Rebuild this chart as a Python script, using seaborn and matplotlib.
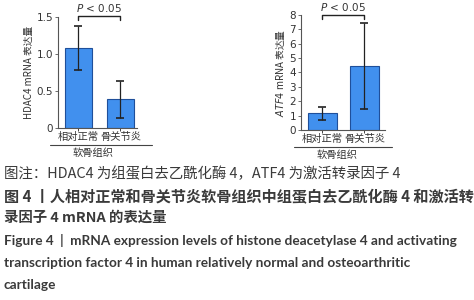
import matplotlib
matplotlib.use("Agg")
import matplotlib.pyplot as plt
import seaborn as sns
import pandas as pd
from matplotlib.lines import Line2D

sns.set_theme(style="ticks")
plt.rcParams['font.family'] = ['Noto Sans CJK SC', 'DejaVu Sans']

groups = ["相对正常", "骨关节炎"]
hdac4_mean = [1.08, 0.39]
hdac4_sd = [0.30, 0.25]
atf4_mean = [1.15, 4.45]
atf4_sd = [0.45, 3.0]
xgroup_label = "软骨组织"
hdac4_ylabel = "HDAC4 mRNA 表达量"
atf4_ylabel = "$\\it{ATF4}$ mRNA 表达量"
p_text = "$\\it{P}$ < 0.05"
captions = [
    "图注：HDAC4 为组蛋白去乙酰化酶 4，ATF4 为激活转录因子 4",
    "图 4 丨人相对正常和骨关节炎软骨组织中组蛋白去乙酰化酶 4 和激活转",
    "录因子 4 mRNA 的表达量",
    "Figure 4  |  mRNA expression levels of histone deacetylase 4 and activating",
    "transcription factor 4 in human relatively normal and osteoarthritic",
    "cartilage",
]

bar_color = "#4190ee"
edge_color = "#1f4f9a"
txt = "#333333"

fig = plt.figure(figsize=(4.74, 3.0), dpi=100)

def panel(rect, means, sds, ylim, yticks, ylabel, width, xlim, ptop, ph,
          line_x, label_x):
    ax = fig.add_axes(rect)
    df = pd.DataFrame({"g": groups, "v": means})
    sns.barplot(data=df, x="g", y="v", ax=ax, color=bar_color, width=width,
                edgecolor=edge_color, linewidth=0.8, saturation=1)
    ax.errorbar(range(len(means)), means, yerr=sds, fmt="none", ecolor="#222222",
                elinewidth=0.9, capsize=3, capthick=1.2)
    ax.set_ylim(*ylim)
    ax.set_xlim(*xlim)
    ax.set_yticks(yticks)
    ax.set_yticklabels([str(t) for t in yticks], fontsize=7.5, color=txt,
                       family=['DejaVu Sans'])
    ax.tick_params(axis='y', length=2.5, width=0.6, pad=1, colors="#555555", labelcolor=txt)
    ax.tick_params(axis='x', length=2, width=0.6, pad=1, labelsize=7.4, labelcolor=txt)
    ax.set_xlabel("")
    ax.set_ylabel(ylabel, fontsize=7, color=txt, labelpad=2)
    for s in ["top", "right"]:
        ax.spines[s].set_visible(False)
    for s in ["left", "bottom"]:
        ax.spines[s].set_color("#555555")
        ax.spines[s].set_linewidth(0.8)
    # significance bracket
    ax.plot([0, 0, 1, 1], [ptop - ph, ptop, ptop, ptop - ph], color="#222222",
            lw=1.0, clip_on=False)
    ax.text(0.5, ptop + ph * 0.4, p_text, ha="center", va="bottom", fontsize=7.5,
            color=txt, family=['DejaVu Sans'])
    # group line and label
    ax.add_line(Line2D(line_x, [-0.153, -0.153], transform=ax.transAxes,
                       color="#444444", lw=0.8, clip_on=False))
    ax.text(label_x, -0.175, xgroup_label, transform=ax.transAxes, ha="center",
            va="top", fontsize=7.4, color=txt)
    return ax

panel([0.122, 0.573, 0.167, 0.37], hdac4_mean, hdac4_sd, (0, 1.5),
      [0, 0.5, 1.0, 1.5], hdac4_ylabel, 0.64, (-0.49, 1.4), 1.52, 0.06,
      [-0.1, 1.19], 0.45)
panel([0.635, 0.567, 0.177, 0.383], atf4_mean, atf4_sd, (0, 8),
      [0, 1, 2, 3, 4, 5, 6, 7, 8], atf4_ylabel, 0.69, (-0.51, 1.49), 8.0, 0.3,
      [-0.08, 1.08], 0.43)

ys = [0.42, 0.343, 0.273, 0.197, 0.123, 0.05]
sizes = [10.4, 10.9, 10.4, 9.85, 9.85, 9.85]
weights = ["normal", "bold", "bold", "bold", "bold", "bold"]
for t, y, s, w in zip(captions, ys, sizes, weights):
    fam = ['Noto Sans CJK SC', 'DejaVu Sans'] if any(ord(c) > 127 for c in t) else ['Lato']
    fig.text(0.008, y, t, ha="left", va="center", fontsize=s, fontweight=w,
             color="#3a3a3a", family=fam)

fig.savefig("out.png", dpi=100)
